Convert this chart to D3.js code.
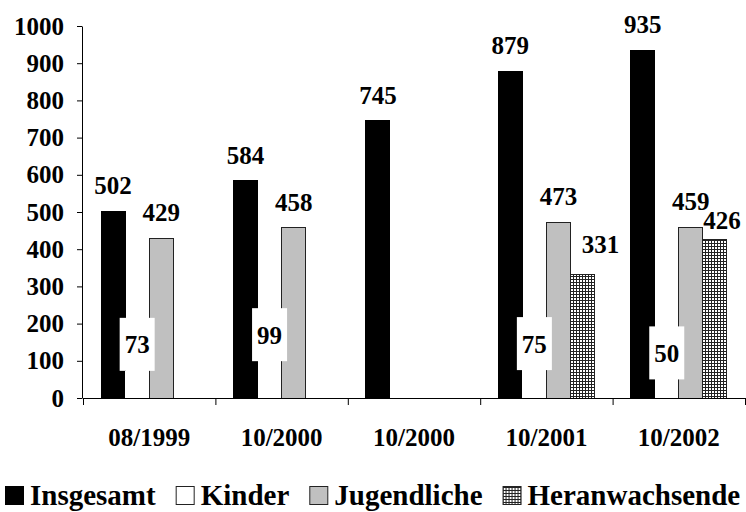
<!DOCTYPE html>
<html>
<head>
<meta charset="utf-8">
<script src="https://cdn.jsdelivr.net/npm/d3@7"></script>
<style>
  html, body { margin: 0; padding: 0; background: #fff; }
</style>
</head>
<body>
<svg id="chart" width="746" height="512" font-family="Liberation Serif" font-weight="bold"></svg>
<script>
// Survey dates (the second "10/2000" column is a separate survey)
const categories = ["08/1999", "10/2000", "10/2000", "10/2001", "10/2002"];
const seriesNames = ["Insgesamt", "Kinder", "Jugendliche", "Heranwachsende"];

// Counts per age group
const insgesamt      = [502, 584, 745, 879, 935];
const kinder         = [73, 99, null, 75, 50];
const jugendliche    = [429, 458, null, 473, 459];
const heranwachsende = [null, null, null, 331, 426];

const yTicks = [0, 100, 200, 300, 400, 500, 600, 700, 800, 900, 1000];

const seriesValues = [insgesamt, kinder, jugendliche, heranwachsende];

// Fill style per series
const seriesFill = ["#000", "#fff", "#c0c0c0", "url(#grid)"];
const seriesStroke = ["#000", "none", "#222", "#222"];

// Label shifts where labels were moved to avoid overlapping (dx, dy)
const labelShift = { "3|3": [18, -5], "3|4": [7, 6] };

const FAMILY = "Liberation Serif";
function styleText(sel, size) {
  return sel
    .attr("font-family", FAMILY)
    .attr("font-weight", "bold")
    .attr("font-size", size)
    .style("font-family", `"${FAMILY}"`)
    .style("font-weight", "bold")
    .style("font-size", size + "px")
    .attr("fill", "#000");
}

const svg = d3.select("#chart");

// Fine grid hatch for the last series
const defs = svg.append("defs");
const pat = defs.append("pattern")
  .attr("id", "grid").attr("patternUnits", "userSpaceOnUse")
  .attr("width", 3).attr("height", 3);
pat.append("rect").attr("width", 3).attr("height", 3).attr("fill", "#fff");
pat.append("rect").attr("width", 3).attr("height", 1).attr("fill", "#222");
pat.append("rect").attr("width", 1).attr("height", 3).attr("fill", "#222");

const plot = { left: 83, right: 745, top: 26, bottom: 398 };

const x = d3.scaleBand()
  .domain(d3.range(categories.length))
  .range([plot.left, plot.right]);

const xs = d3.scaleBand()
  .domain(d3.range(seriesNames.length))
  .range([0, x.bandwidth()])
  .paddingInner(0)
  .paddingOuter(0.75);

const y = d3.scaleLinear().domain([0, 1000]).range([plot.bottom, plot.top]);

// Bars
const bars = [];
seriesValues.forEach((vals, s) => {
  vals.forEach((v, c) => {
    if (v != null) bars.push({ s, c, v });
  });
});

svg.append("g").selectAll("rect")
  .data(bars)
  .join("rect")
  .attr("x", d => x(d.c) + xs(d.s))
  .attr("y", d => y(d.v))
  .attr("width", xs.bandwidth())
  .attr("height", d => y(0) - y(d.v))
  .attr("fill", d => seriesFill[d.s])
  .attr("stroke", d => seriesStroke[d.s])
  .attr("stroke-width", 1)
  .attr("shape-rendering", "crispEdges");

// Y axis
const yAxis = svg.append("g")
  .attr("transform", `translate(${plot.left - 1},0)`)
  .call(d3.axisLeft(y).tickValues(yTicks).tickFormat(d3.format("d"))
    .tickSize(5).tickSizeOuter(0).tickPadding(13));
yAxis.attr("font-family", FAMILY).attr("font-size", 25);
styleText(yAxis.selectAll("text"), 25);
yAxis.selectAll("line, path").attr("stroke", "#000");

// X axis line with ticks at category boundaries
const xb = d3.scaleLinear().domain([0, categories.length]).range([plot.left, plot.right]);
const xAxis = svg.append("g")
  .attr("transform", `translate(0,${plot.bottom})`)
  .call(d3.axisBottom(xb).tickValues(d3.range(categories.length + 1)).tickFormat("").tickSize(7).tickSizeOuter(0));
xAxis.selectAll("line, path").attr("stroke", "#000");

// Category labels
const xLab = svg.append("g")
  .attr("transform", `translate(0,${plot.bottom})`)
  .call(d3.axisBottom(x).tickFormat(i => categories[i]).tickSize(0).tickPadding(30));
xLab.attr("font-family", FAMILY).attr("font-size", 25);
xLab.select(".domain").remove();
styleText(xLab.selectAll("text"), 25);

// Value labels
const labelSize = 25;
const boxes = svg.append("g");
const labels = svg.append("g");
bars.forEach(d => {
  const cx = x(d.c) + xs(d.s) + xs.bandwidth() / 2;
  const top = y(d.v);
  const t = styleText(labels.append("text"), labelSize)
    .attr("text-anchor", "middle")
    .text(d.v);
  if (d.s === 1) {
    // Kinder values sit in white boxes resting on the bar
    const w = 25 + 10;
    const h = 53;
    boxes.append("rect")
      .attr("x", cx - w / 2).attr("y", top - h)
      .attr("width", w).attr("height", h)
      .attr("fill", "#fff");
    t.attr("x", cx).attr("y", top - h / 2 + 9);
  } else {
    const sh = labelShift[d.s + "|" + d.c] || [0, 0];
    t.attr("x", cx + sh[0]).attr("y", top - 17 + sh[1]);
  }
});

// Legend: swatch, gap, label; items laid out left to right
const legend = svg.append("g").attr("transform", "translate(5,505)");
let lx = 0;
seriesNames.forEach((name, s) => {
  const g = legend.append("g").attr("transform", `translate(${lx},0)`);
  g.append("rect")
    .attr("x", 0.5).attr("y", -18.5)
    .attr("width", 18).attr("height", 18)
    .attr("fill", seriesFill[s])
    .attr("stroke", s === 0 ? "#000" : "#222");
  const t = styleText(g.append("text"), 29)
    .attr("x", 25).attr("y", 0)
    .text(name);
  lx += 25 + t.node().getComputedTextLength() + 20;
});
</script>
</body>
</html>
